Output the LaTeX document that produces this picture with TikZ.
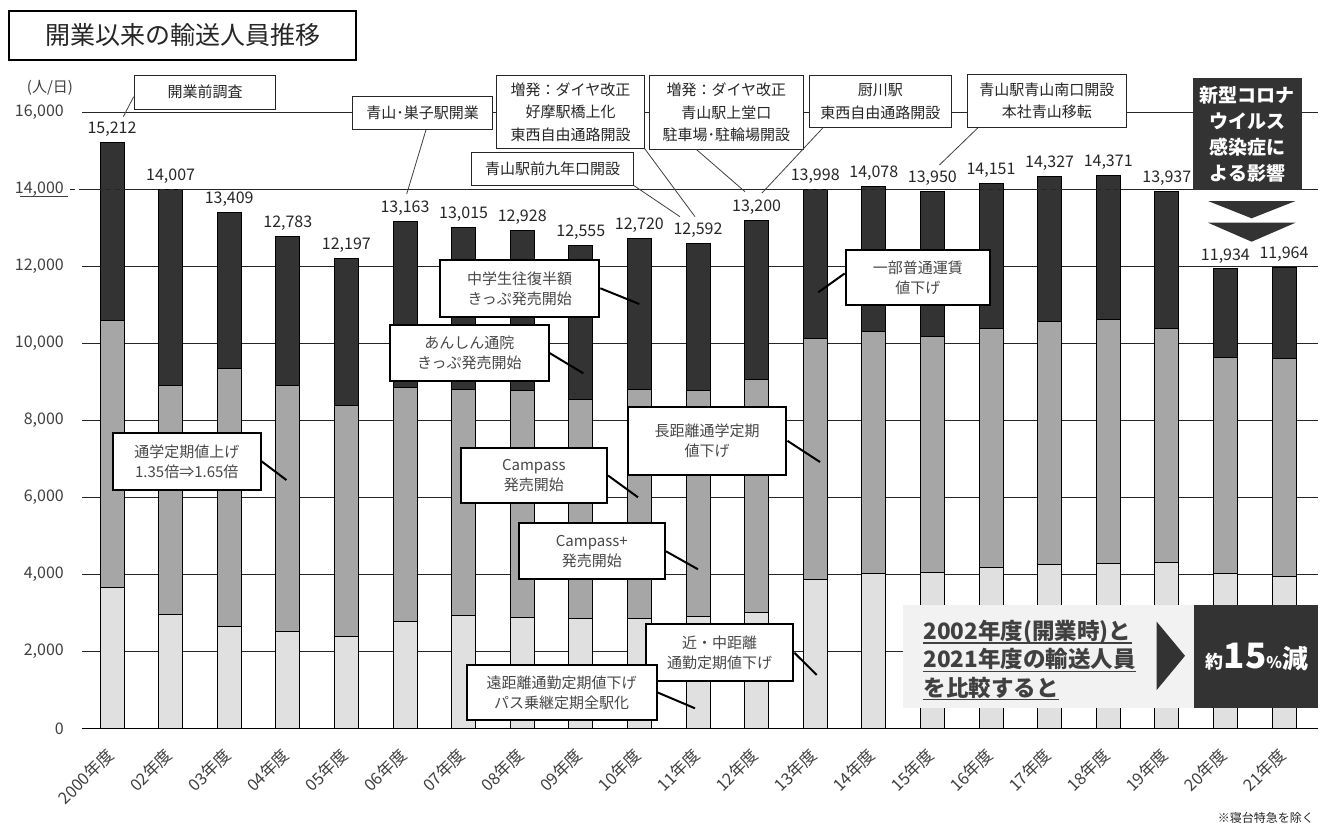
\documentclass[tikz,border=0pt]{standalone}
\usepackage{fontspec}
\setmainfont{Noto Sans CJK JP}
\usetikzlibrary{calc}
\definecolor{dk}{HTML}{333333}
\definecolor{md}{HTML}{A6A6A6}
\definecolor{lt}{HTML}{E0E0E0}
\definecolor{tx}{HTML}{404040}
\definecolor{pale}{HTML}{F2F2F2}
\tikzset{
 gridl/.style={black!85, line width=0.8pt},
 barseg/.style={draw=black, line width=0.7pt},
 vallab/.style={font=\fontsize{16}{19}\selectfont, text=black!85, inner sep=0pt},
 ticklab/.style={font=\fontsize{16}{19}\selectfont, text=tx, anchor=east, inner sep=0pt},
 catlab/.style={font=\fontsize{16.5}{18}\selectfont, text=tx, rotate=45, anchor=east, inner sep=0pt},
 topbox/.style={draw=black!85, line width=0.9pt, fill=white, align=center, inner sep=0pt, font=\fontsize{15}{22.5}\selectfont, text=black!85},
 annbox/.style={draw=black, line width=2pt, fill=white, align=center, inner sep=0pt, font=\fontsize{15}{20}\selectfont, text=black!72},
 thinlead/.style={black!75, line width=0.8pt},
 thicklead/.style={black, line width=2pt},
 cmptext/.style={font=\fontsize{22.5}{26}\selectfont\bfseries, text=tx, anchor=base west, inner sep=0pt},
}
\begin{document}
\begin{tikzpicture}[x=1pt,y=-1pt]
\useasboundingbox (0,0) rectangle (1325,825);
\fill[white] (0,0) rectangle (1325,825);

% title
\node[draw=black, line width=1.5pt, minimum width=347, minimum height=49, inner sep=0pt,
      font=\fontsize{25}{28}\selectfont, text=black!85] (title) at (182.5,35.5) {開業以来の輸送人員推移};

% unit
\node[font=\fontsize{15}{18}\selectfont, text=tx, inner sep=0pt] (unit) at (50,88) {(人/日)};

% grid
\foreach \k in {1,...,8} { \draw[gridl] (82,{728.8-77.1*\k}) -- (1318,{728.8-77.1*\k}); }

% tick labels
\node[ticklab] (t0) at (64,728.8) {0};
\node[ticklab] (t1) at (64,651.7) {2,000};
\node[ticklab] (t2) at (64,574.6) {4,000};
\node[ticklab] (t3) at (64,497.5) {6,000};
\node[ticklab] (t4) at (64,420.4) {8,000};
\node[ticklab] (t5) at (64,343.3) {10,000};
\node[ticklab] (t6) at (64,266.2) {12,000};
\node[ticklab] (t7) at (64,189.1) {14,000};
\node[ticklab] (t8) at (64,112.0) {16,000};
\draw[black!75, line width=0.8pt] (20,196) -- (68,196);

% bars
\foreach \i/\lv/\gv/\tv/\vh/\vl/\yr in {
 0/3680/10600/15212/15/212/2000,
 1/2980/8920/14007/14/007/02,
 2/2650/9350/13409/13/409/03,
 3/2520/8920/12783/12/783/04,
 4/2410/8390/12197/12/197/05,
 5/2800/8860/13163/13/163/06,
 6/2940/8820/13015/13/015/07,
 7/2890/8770/12928/12/928/08,
 8/2870/8550/12555/12/555/09,
 9/2870/8820/12720/12/720/10,
 10/2910/8790/12592/12/592/11,
 11/3020/9070/13200/13/200/12,
 12/3870/10140/13998/13/998/13,
 13/4030/10300/14078/14/078/14,
 14/4070/10170/13950/13/950/15,
 15/4200/10400/14151/14/151/16,
 16/4260/10570/14327/14/327/17,
 17/4300/10620/14371/14/371/18,
 18/4330/10400/13937/13/937/19,
 19/4030/9650/11934/11/934/20,
 20/3950/9620/11964/11/964/21}{
 \pgfmathsetmacro{\cx}{112+58.6*\i}
 \pgfmathsetmacro{\ya}{728.8-0.03855*\lv}
 \pgfmathsetmacro{\yb}{728.8-0.03855*\gv}
 \pgfmathsetmacro{\yt}{728.8-0.03855*\tv}
 \draw[barseg, fill=lt] (\cx-12,728.8) rectangle (\cx+12,\ya);
 \draw[barseg, fill=md] (\cx-12,\ya) rectangle (\cx+12,\yb);
 \draw[barseg, fill=dk] (\cx-12,\yb) rectangle (\cx+12,\yt);
 \node[vallab] (v\i) at (\cx,\yt-13) {\vh,\vl};
 \node[catlab] (c\i) at (\cx-1.5,752) {\yr{}年度};
}

% 14000 dashed overlay and axis
\draw[black!85, line width=0.8pt, dash pattern=on 5pt off 4pt] (70,189.1) -- (1193,189.1);
\draw[black, line width=1.2pt] (82,728.8) -- (1318,728.8);

% top boxes
\node[topbox, minimum width=141.7, minimum height=33.3] (k0) at (205,92.3) {開業前調査};
\node[topbox, minimum width=140, minimum height=33.3] (k1) at (422.7,112.7) {青山･巣子駅開業};
\node[topbox, minimum width=147.6, minimum height=72.6] (k2) at (570.5,112) {増発：ダイヤ改正\\好摩駅橋上化\\東西自由通路開設};
\node[topbox, minimum width=154, minimum height=73.6] (k3) at (726.3,112.5) {増発：ダイヤ改正\\青山駅上堂口\\駐車場･駐輪場開設};
\node[topbox, minimum width=161.6, minimum height=32.7] (k4) at (552.5,168.7) {青山駅前九年口開設};
\node[topbox, minimum width=141.5, minimum height=52] (k5) at (880.3,101.7) {厨川駅\\東西自由通路開設};
\node[topbox, minimum width=158.4, minimum height=53] (k6) at (1046.8,100.8) {青山駅青山南口開設\\本社青山移転};

\coordinate (e0) at (123.3,116.7);
\coordinate (e1) at (406.7,194);
\coordinate (e2) at (695,216.7);
\coordinate (e3) at (745,191.7);
\coordinate (e4) at (680,216.7);
\coordinate (e5) at (762,193);
\coordinate (e6) at (939.4,165);
\draw[thinlead] ($(k0.west)+(0,4.4)$) -- (e0);
\draw[thinlead] ($(k1.south)+(3.3,0)$) -- (e1);
\draw[thinlead] (k2.south east) -- (e2);
\draw[thinlead] ($(k3.south)+(-29.6,0)$) -- (e3);
\draw[thinlead] (k4.south east) -- (e4);
\draw[thinlead] ($(k5.south west)+(13.5,0)$) -- (e5);
\draw[thinlead] ($(k6.south west)+(10.8,0)$) -- (e6);

% corona box
\node[fill=dk, minimum width=108.5, minimum height=112.3, inner sep=0pt, align=center,
      font=\fontsize{19}{26}\selectfont\bfseries, text=white] (cor) at (1247.3,133.9) {新型コロナ\\ウイルス\\感染症に\\よる影響};
\fill[dk] (1208,201) -- (1295.5,201) -- (1251.6,218.3) -- cycle;
\fill[dk] (1208,222.7) -- (1295.5,222.7) -- (1251.6,241.7) -- cycle;

% annotation boxes
\coordinate (f1) at (286.4,480);
\coordinate (f2) at (583.3,373.3);
\coordinate (f3) at (639.3,304);
\coordinate (f4) at (638,497.3);
\coordinate (f5) at (698,569.3);
\coordinate (f6) at (820,462);
\coordinate (f7) at (818.3,292.3);
\coordinate (f8) at (816.7,675);
\coordinate (f9) at (695,708.3);
\node[annbox, minimum width=147.5, minimum height=57.3] (a1) at (186.8,461.3) {通学定期値上げ\\1.35倍⇒1.65倍};
\node[annbox, minimum width=158.5, minimum height=56] (a2) at (469.3,353) {あんしん通院\\きっぷ発売開始};
\node[annbox, minimum width=159.3, minimum height=56.7] (a3) at (519.7,288.3) {中学生往復半額\\きっぷ発売開始};
\node[annbox, minimum width=146.5, minimum height=54.4] (a4) at (533.8,475.5) {Campass\\発売開始};
\node[annbox, minimum width=146.4, minimum height=56] (a5) at (591.8,551.3) {Campass+\\発売開始};
\node[annbox, minimum width=158.4, minimum height=68.3] (a6) at (707.2,440.8) {長距離通学定期\\値下げ};
\node[annbox, minimum width=144.3, minimum height=55] (a7) at (917.8,277.5) {一部普通運賃\\値下げ};
\node[annbox, minimum width=147.3, minimum height=56.7] (a8) at (719.7,652.7) {近・中距離\\通勤定期値下げ};
\node[annbox, minimum width=190, minimum height=55] (a9) at (561.7,692.5) {遠距離通勤定期値下げ\\パス乗継定期全駅化};
\draw[thicklead] (a1.east) -- (f1);
\draw[thicklead] (a2.east) -- (f2);
\draw[thicklead] (a3.east) -- (f3);
\draw[thicklead] (a4.east) -- (f4);
\draw[thicklead] (a5.east) -- (f5);
\draw[thicklead] (a6.east) -- (f6);
\draw[thicklead] ($(a7.west)+(0,-4)$) -- (f7);
\draw[thicklead] (a8.east) -- (f8);
\draw[thicklead] (a9.east) -- (f9);

% comparison
\fill[pale] (903.3,605) rectangle (1194.3,708.3);
\fill[dk] (1194.3,605) rectangle (1318.3,708.3);
\fill[dk] (1156.7,621.7) -- (1185,655.8) -- (1156.7,690) -- cycle;
\node[cmptext] (m1) at (923.3,639.5) {2002年度(開業時)と};
\node[cmptext] (m2) at (923.3,667.8) {2021年度の輸送人員};
\node[cmptext] (m3) at (923.3,696.1) {を比較すると};
\foreach \m in {m1,m2,m3} { \draw[tx, line width=1.6pt] ($(\m.base west)+(0,3.5)$) -- ($(\m.base east)+(0,3.5)$); }
\node[anchor=base, inner sep=0pt, text=white, font=\bfseries] (res) at (1257,668)
 {{\fontsize{18}{18}\selectfont 約}{\fontsize{35}{35}\selectfont 15}{\fontsize{16}{16}\selectfont\%}{\fontsize{26}{26}\selectfont 減}};

% footnote
\node[anchor=east, inner sep=0pt, font=\fontsize{12}{14}\selectfont, text=black!85] (note) at (1314,818) {※寝台特急を除く};
\end{tikzpicture}
\end{document}
